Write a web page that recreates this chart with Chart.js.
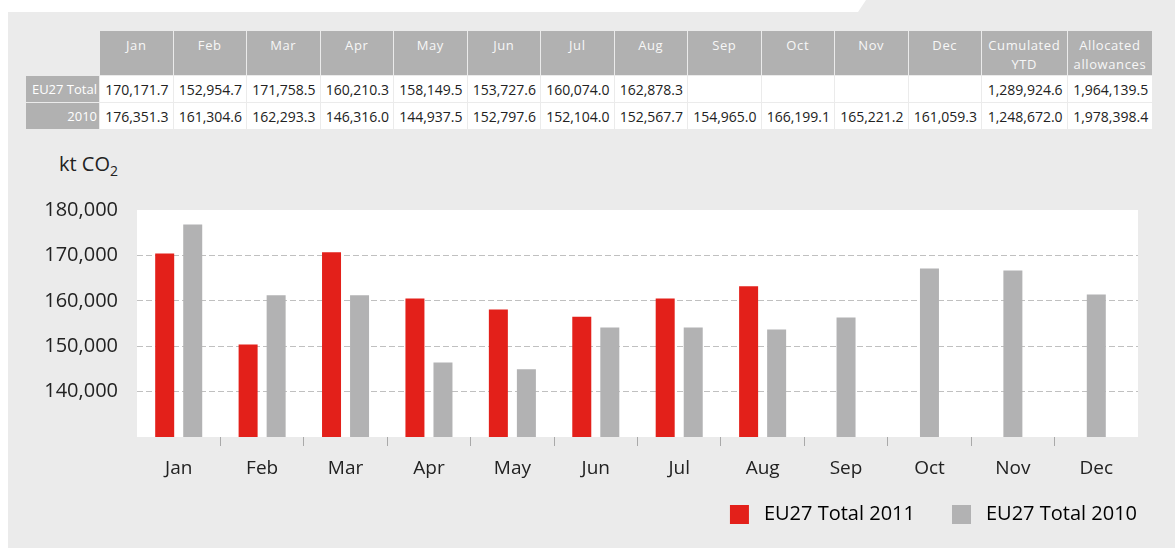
<!DOCTYPE html>
<html>
<head>
<meta charset="utf-8">
<script src="https://cdn.jsdelivr.net/npm/chart.js@4.4.1/dist/chart.umd.min.js"></script>
<style>
html, body { margin: 0; padding: 0; background: #fff; width: 1175px; height: 548px; overflow: hidden; font-family: "Open Sans", sans-serif; }
#panel { position: absolute; left: 8px; top: 0; width: 1167px; height: 548px; background: #ebebeb;
  clip-path: polygon(0 12px, 850px 12px, 858px 0, 100% 0, 100% 100%, 0 100%); }
#tbl { position: absolute; left: 25px; top: 30px; width: 1128px; border-collapse: separate; border-spacing: 1px; table-layout: fixed; }
#tbl th, #tbl td { padding: 0 4px; white-space: nowrap; overflow: hidden; box-sizing: border-box; }
#tbl thead th { height: 44px; background: #b1b1b1; color: #f7f7f7; font-weight: normal; font-size: 13px; letter-spacing: 0.6px;
  line-height: 19px; vertical-align: top; padding: 5px 0 0 0; white-space: pre-line; text-align: center; }
#tbl thead th.blank { background: transparent; }
#tbl tbody td { height: 26px; background: #fff; color: #222; font-size: 14px; text-align: right; vertical-align: middle; }
#tbl tbody th { height: 26px; background: #b1b1b1; color: #fff; font-weight: normal; font-size: 13px; text-align: right; padding: 0 2px 0 0; }
#unit { position: absolute; left: 0; top: 152px; width: 118px; text-align: right; font-size: 20px; line-height: 24px; color: #222; }
#unit sub { font-size: 14px; vertical-align: -5px; line-height: 0; }
#wrap { position: absolute; left: 8px; top: 140px; width: 1167px; height: 408px; }
</style>
</head>
<body>
<div id="panel"></div>
<table id="tbl"></table>
<div id="unit">kt CO<sub>2</sub></div>
<div id="wrap"><canvas id="chart_emissions"></canvas></div>
<script>
const months = ['Jan', 'Feb', 'Mar', 'Apr', 'May', 'Jun', 'Jul', 'Aug', 'Sep', 'Oct', 'Nov', 'Dec'];
const series2011 = [170400, 150400, 170700, 160500, 158100, 156500, 160500, 163200, null, null, null, null];
const series2010 = [176800, 161200, 161200, 146400, 144900, 154100, 154100, 153700, 156300, 167100, 166700, 161400];
const yTicks = [140000, 150000, 160000, 170000, 180000];
const seriesLabels = ['EU27 Total 2011', 'EU27 Total 2010'];

const tableHeads = months.concat(['Cumulated\nYTD', 'Allocated\nallowances']);
const rowLabels = ['EU27 Total', '2010'];
const tableRow2011 = ['170,171.7', '152,954.7', '171,758.5', '160,210.3', '158,149.5', '153,727.6', '160,074.0', '162,878.3', '', '', '', '', '1,289,924.6', '1,964,139.5'];
const tableRow2010 = ['176,351.3', '161,304.6', '162,293.3', '146,316.0', '144,937.5', '152,797.6', '152,104.0', '152,567.7', '154,965.0', '166,199.1', '165,221.2', '161,059.3', '1,248,672.0', '1,978,398.4'];

// table above the chart
const colWidths = [73].concat(months.map(() => 72.5), [84.6, 84.6]);
let html = '<colgroup>' + colWidths.map(w => '<col style="width:' + w + 'px">').join('') + '</colgroup>';
html += '<thead><tr><th class="blank"></th>' + tableHeads.map(h => '<th>' + h + '</th>').join('') + '</tr></thead><tbody>';
[tableRow2011, tableRow2010].forEach((row, i) => {
  html += '<tr><th>' + rowLabels[i] + '</th>' + row.map(v => '<td>' + v + '</td>').join('') + '</tr>';
});
html += '</tbody>';
document.getElementById('tbl').innerHTML = html;

const red = '#e3201a';
const grey = '#b2b2b3';

// legend swatch: blank lead-in then a 19px square
function swatch(color) {
  const c = document.createElement('canvas');
  c.width = 60; c.height = 19;
  const g = c.getContext('2d');
  g.fillStyle = color;
  g.fillRect(36, 0, 19, 19);
  return c;
}
const swatches = [swatch(red), swatch(grey)];

Chart.defaults.font.family = '"Open Sans", sans-serif';
Chart.defaults.color = '#222';

var chart_emissions = new Chart(document.getElementById('chart_emissions'), {
    type: 'bar',
    data: {
        labels: months,
        datasets: [
            {
                label: seriesLabels[0],
                data: series2011,
                backgroundColor: red,
                borderWidth: 0,
                categoryPercentage: 0.672,
                barPercentage: 0.68,
                maxBarThickness: 19,
                skipNull: true
            },
            {
                label: seriesLabels[1],
                data: series2010,
                backgroundColor: grey,
                borderWidth: 0,
                categoryPercentage: 0.672,
                barPercentage: 0.68,
                maxBarThickness: 19,
                skipNull: true
            }
        ]
    },
    options: {
        animation: false,
        responsive: true,
        maintainAspectRatio: false,
        layout: { padding: { left: 0, right: 37, top: 70, bottom: 14 } },
        plugins: {
            tooltip: { enabled: false },
            legend: {
                position: 'bottom',
                align: 'end',
                labels: {
                    usePointStyle: true,
                    pointStyleWidth: 60,
                    boxHeight: 19,
                    padding: 1,
                    color: '#222',
                    font: { size: 20 },
                    generateLabels: chart => chart.data.datasets.map((ds, i) => ({
                        text: ds.label,
                        fillStyle: ds.backgroundColor,
                        strokeStyle: ds.backgroundColor,
                        lineWidth: 0,
                        pointStyle: swatches[i],
                        hidden: false,
                        datasetIndex: i
                    }))
                }
            }
        },
        scales: {
            x: {
                afterFit: s => { s.height = 66; },
                border: { display: false },
                grid: {
                    offset: true,
                    drawOnChartArea: false,
                    drawTicks: true,
                    tickLength: 9,
                    color: c => (c.type === 'tick' && c.index > 0) ? '#a9a9a9' : 'transparent'
                },
                ticks: { font: { size: 19 }, color: '#222', padding: 11, autoSkip: false, maxRotation: 0 }
            },
            y: {
                min: 130000,
                max: 180000,
                afterFit: s => { s.width = 129; },
                afterBuildTicks: s => { s.ticks = yTicks.map(v => ({ value: v })); },
                border: { display: false, dash: [6, 3] },
                grid: {
                    drawTicks: false,
                    color: c => (c.tick && c.tick.value === 180000) ? 'transparent' : '#c0c0c0'
                },
                ticks: {
                    font: { size: 20 },
                    color: '#222',
                    padding: 19,
                    callback: v => v.toLocaleString('en-US')
                }
            }
        }
    },
    plugins: [{
        id: 'plotBackground',
        beforeDraw: (chart) => {
            const ctx = chart.ctx;
            const a = chart.chartArea;
            ctx.save();
            ctx.fillStyle = '#fff';
            ctx.fillRect(a.left, a.top, a.right - a.left, a.bottom - a.top);
            ctx.restore();
        }
    }]
});
</script>
</body>
</html>
